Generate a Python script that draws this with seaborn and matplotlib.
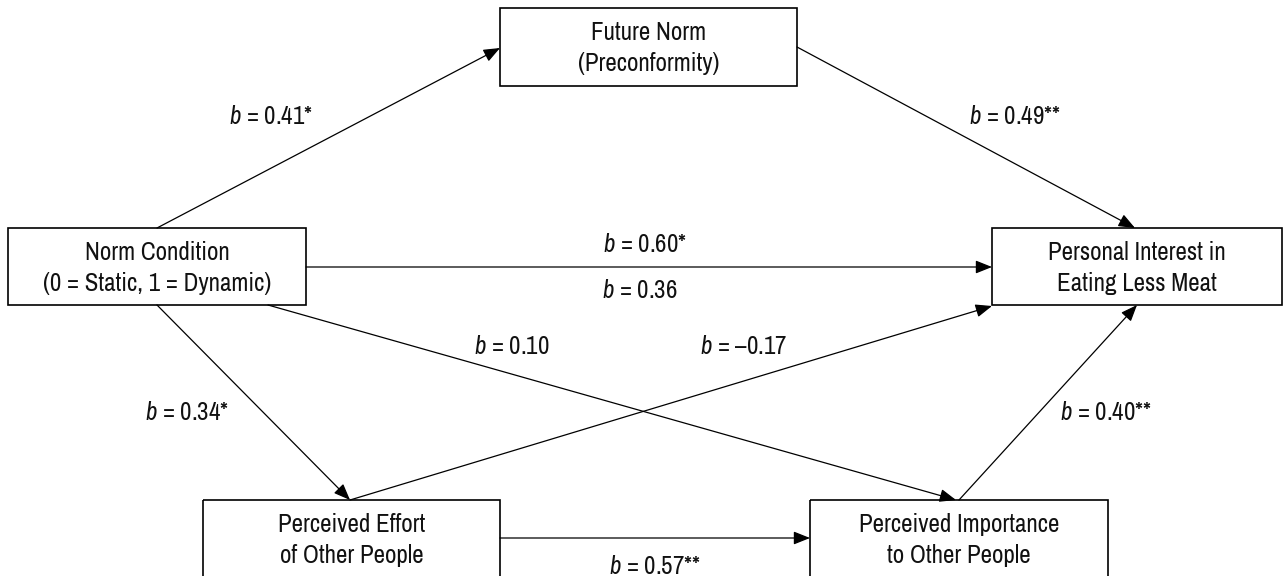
import matplotlib
matplotlib.use("Agg")
import matplotlib.pyplot as plt
import seaborn as sns
from matplotlib import font_manager
from matplotlib.patches import Rectangle

sns.set_theme(style="white")

# pick a condensed face if one is installed, else Roboto
installed = sorted({f.name for f in font_manager.fontManager.ttflist})
narrow = [n for n in installed if 'Narrow' in n or 'Condensed' in n]
base_font = narrow[0] if narrow else 'Roboto'
plt.rcParams['font.family'] = [base_font, 'DejaVu Sans']
plt.rcParams['mathtext.fontset'] = 'custom'
plt.rcParams['mathtext.rm'] = base_font
plt.rcParams['mathtext.it'] = base_font + ':italic'

# Nodes of the path model
node_keys = ['future', 'norm', 'interest', 'effort', 'importance']
node_labels = ['Future Norm\n(Preconformity)',
               'Norm Condition\n(0 = Static, 1 = Dynamic)',
               'Personal Interest in\nEating Less Meat',
               'Perceived Effort\nof Other People',
               'Perceived Importance\nto Other People']

# Paths (source -> target) and their coefficients
edge_from = ['norm', 'future', 'norm', 'norm', 'effort', 'norm', 'importance', 'effort']
edge_to = ['future', 'interest', 'interest', 'importance', 'interest', 'effort', 'interest', 'importance']
edge_coef = ['0.41*', '0.49**', '0.60*', '0.10', '\u20130.17', '0.34*', '0.40**', '0.57**']
extra_coef = ['0.36']  # second coefficient on the direct path

# Layout (pixel space, y down)
boxes = {
    'future': (500, 8, 297, 78),
    'norm': (8, 228, 298, 77),
    'interest': (992, 228, 290, 77),
    'effort': (203, 500, 297, 82),
    'importance': (810, 500, 298, 82),
}
edge_pts = [
    ((157, 228), (500, 48)),
    ((797, 47), (1135, 228)),
    ((306, 267), (992, 267)),
    ((268, 305), (956, 500)),
    ((350, 500), (992, 306)),
    ((157, 305), (350, 500)),
    ((959, 500), (1137, 305)),
    ((500, 538), (810, 538)),
]
label_pos = [(271, 117), (1015, 117), (645, 245), (512, 347), (744, 347),
             (187, 413), (1106, 412), (655, 567)]
extra_pos = [(640, 290)]

fs = 18 if narrow else 14

fig = plt.figure(figsize=(12.84, 5.76), dpi=100)
ax = fig.add_axes([0, 0, 1, 1])
ax.set_xlim(0, 1284)
ax.set_ylim(576, 0)
ax.axis('off')

for key, text in zip(node_keys, node_labels):
    x0, y0, w, h = boxes[key]
    ax.add_patch(Rectangle((x0, y0), w, h, fill=False, edgecolor='black', linewidth=1.2))
    ax.text(x0 + w / 2, y0 + 40, text, ha='center', va='center', fontsize=fs,
            linespacing=1.4, color='#111111')

for (p0, p1) in edge_pts:
    ax.annotate('', xy=p1, xytext=p0,
                arrowprops=dict(arrowstyle='-|>,head_length=0.5,head_width=0.2',
                                mutation_scale=20, color='black', lw=0.9,
                                shrinkA=0, shrinkB=0))

for coef, (x, y) in zip(edge_coef + extra_coef, label_pos + extra_pos):
    ax.text(x, y, r'$b$ = ' + coef, ha='center', va='center', fontsize=fs, color='#111111')

fig.savefig('out.png', dpi=100)
